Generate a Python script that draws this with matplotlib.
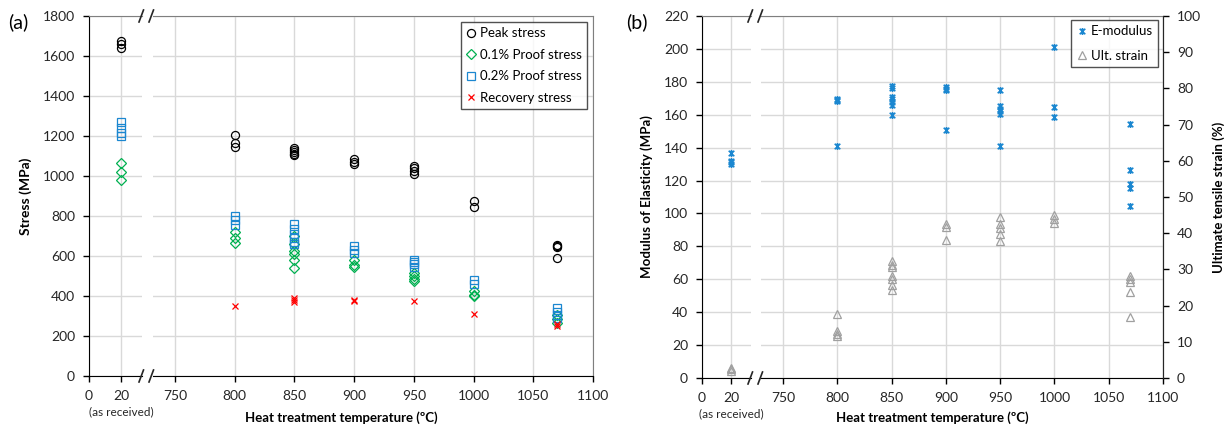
import matplotlib
matplotlib.use("Agg")
import matplotlib.pyplot as plt
from matplotlib.path import Path
from matplotlib.lines import Line2D

plt.rcParams['font.family'] = ['Lato', 'DejaVu Sans']
plt.rcParams['font.size'] = 10

# heat treatment temperatures (20 = as received)
temps = [20, 800, 850, 900, 950, 1000, 1070]

# panel (a) stresses, MPa
peak = [[1675, 1660, 1640], [1205, 1163, 1143], [1138, 1130, 1122, 1112, 1105],
        [1085, 1070, 1058], [1052, 1039, 1025, 1012], [876, 843], [656, 650, 645, 590]]
proof01 = [[1065, 1022, 982], [718, 690, 665], [700, 660, 625, 612, 578, 540],
           [582, 557, 543], [515, 500, 485, 474], [424, 407, 399], [307, 283, 266]]
proof02 = [[1270, 1240, 1215, 1200], [801, 781, 756], [760, 735, 712, 690, 672, 658],
           [648, 632, 615], [582, 570, 558, 545], [482, 462], [338, 322, 305, 290]]
recovery = [[], [352], [390, 380, 370], [382, 377], [374], [311], [258, 249]]

# panel (b) E-modulus (left axis) and ultimate strain in % (right axis)
emod = [[137, 132, 131, 130], [169.5, 169, 168.5, 141], [177.3, 176.3, 170.8, 169.4, 167.7, 166.1, 159.6],
        [176.9, 175.9, 174.8, 150.9], [175.2, 165.1, 163.7, 162.1, 160.7, 141.2],
        [201.2, 164.5, 158.6], [154.6, 126.2, 118.1, 115.7, 104.3]]
strain = [[2.9, 2.4, 2.0], [17.8, 12.9, 12.2, 11.5], [32.2, 31.3, 30.7, 28.1, 27.4, 25.8, 24.3],
          [42.5, 41.7, 38.0], [44.5, 42.6, 41.3, 39.9, 37.9], [44.9, 44.0, 42.8],
          [28.1, 27.4, 26.5, 23.8, 16.9]]

xticks_hi = [750, 800, 850, 900, 950, 1000, 1050, 1100]


def flat(groups):
    xs, ys = [], []
    for t, vals in zip(temps, groups):
        xs += [t] * len(vals)
        ys += vals
    return xs, ys


star = Path([(-1, -1), (1, 1), (-1, 1), (1, -1), (0, -1.25), (0, 1.25)],
            [Path.MOVETO, Path.LINETO, Path.MOVETO, Path.LINETO, Path.MOVETO, Path.LINETO])

W, H = 1232, 428
fig = plt.figure(figsize=(W / 100, H / 100), dpi=100)


def px_axes(x0, x1, y0, y1):
    return fig.add_axes([x0 / W, 1 - y1 / H, (x1 - x0) / W, (y1 - y0) / H])


grid_c = '#d9d9d9'
grey_sp = '#7f7f7f'


def style_pair(axl, axr, lo_lim, hi_lim, ylim, yticks):
    for ax in (axl, axr):
        ax.set_ylim(*ylim)
        ax.set_yticks(yticks)
        ax.grid(True, color=grid_c, lw=1)
        ax.set_axisbelow(True)
        ax.tick_params(direction='out', length=4, width=1, color='black',
                       labelcolor='#262626', labelsize=10, pad=6)
        ax.spines['top'].set_color(grey_sp)
        ax.spines['bottom'].set_color('black')
    axl.set_xlim(*lo_lim)
    axl.set_xticks([0, 20])
    axl.spines['right'].set_visible(False)
    axl.spines['left'].set_color('black')
    axl.annotate('(as received)', xy=(20, 0), xycoords=('data', 'axes fraction'),
                 xytext=(0, -22), textcoords='offset points', ha='center', va='top',
                 fontsize=8.5, color='#262626')
    axr.set_xlim(*hi_lim)
    axr.set_xticks(xticks_hi)
    axr.spines['left'].set_visible(False)
    axr.spines['right'].set_color(grey_sp)
    axr.tick_params(axis='y', left=False, labelleft=False)


def breaks(xa, xb, ytop, ybot):
    for y in (ytop, ybot):
        for x in (xa, xb):
            fig.add_artist(Line2D([(x) / W, (x + 4.5) / W], [1 - (y + 6) / H, 1 - (y - 6) / H],
                                  color='#262626', lw=1.2))


leg_kw = dict(borderaxespad=0, fancybox=False, edgecolor='#262626', fontsize=9.5,
              handletextpad=0.25, handlelength=0.8, borderpad=0.4)

# ---------- panel (a)
a_lo = px_axes(89, 142, 16, 376)
a_hi = px_axes(153, 593, 16, 376)
style_pair(a_lo, a_hi, (0, 33.1), (731.6, 1100), (0, 1800), range(0, 1801, 200))
for ax in (a_lo, a_hi):
    x, y = flat(peak)
    ax.plot(x, y, 'o', ms=5.8, mfc='none', mec='black', mew=0.9, label='Peak stress')
    x, y = flat(proof01)
    ax.plot(x, y, 'D', ms=4.8, mfc='none', mec='#00b050', mew=0.9, label='0.1% Proof stress')
    x, y = flat(proof02)
    ax.plot(x, y, 's', ms=5.8, mfc='none', mec='#1b87d0', mew=0.9, label='0.2% Proof stress')
    x, y = flat(recovery)
    ax.plot(x, y, 'x', ms=5, mec='#ff0000', mew=0.9, label='Recovery stress')
a_lo.set_ylabel('Stress (MPa)', fontweight='bold', fontsize=10, labelpad=8)
leg = a_hi.legend(loc='upper right', bbox_to_anchor=(1 - 6 / 440, 1 - 6 / 360),
                  labelspacing=0.72, **leg_kw)
leg.get_frame().set_linewidth(1)
breaks(139, 149, 16, 376)
fig.text(341 / W, 1 - 418 / H, 'Heat treatment temperature (\u00baC)', ha='center', va='center',
         fontweight='bold', fontsize=9.5)
fig.text(8 / W, 1 - 22 / H, '(a)', ha='left', va='center', fontsize=14)

# ---------- panel (b)
b_lo = px_axes(702, 751, 16, 378)
b_hi = px_axes(761, 1163, 16, 378)
style_pair(b_lo, b_hi, (0, 33.8), (729.7, 1100), (0, 220), range(0, 221, 20))
b_hi.spines['right'].set_color('#262626')
b_lo2 = b_lo.twinx()
b_hi2 = b_hi.twinx()
# twinx switches the left ticks back on for the parent axes
b_hi.tick_params(axis='y', left=False, right=False, labelleft=False, labelright=False)
b_lo.tick_params(axis='y', left=True, right=False, labelleft=True, labelright=False)
for ax in (b_lo2, b_hi2):
    ax.set_ylim(0, 100)
    for s in ax.spines.values():
        s.set_visible(False)
b_lo2.set_yticks([])
b_lo2.tick_params(axis='y', which='both', left=False, right=False,
                  labelleft=False, labelright=False)
b_hi2.spines['right'].set_visible(True)
b_hi2.spines['right'].set_color('#262626')
b_hi2.set_yticks(range(0, 101, 10))
b_hi2.tick_params(axis='y', direction='out', length=4, width=1, color='black',
                  labelcolor='#262626', labelsize=10, pad=6, left=False, labelleft=False)
for ax, ax2 in ((b_lo, b_lo2), (b_hi, b_hi2)):
    x, y = flat(emod)
    ax.plot(x, y, marker=star, ls='none', ms=5, mfc='none', mec='#1b87d0', mew=1.2, label='E-modulus')
    x, y = flat(strain)
    ax2.plot(x, y, '^', ms=6, mfc='none', mec='#a0a0a0', mew=0.9, label='Ult. strain')
b_lo.set_ylabel('Modulus of Elasticity (MPa)', fontweight='bold', fontsize=9.5, labelpad=8)
b_hi2.set_ylabel('Ultimate tensile strain (%)', fontweight='bold', fontsize=9.5, labelpad=8)
h1, l1 = b_hi.get_legend_handles_labels()
h2, l2 = b_hi2.get_legend_handles_labels()
leg2 = b_hi2.legend(h1 + h2, l1 + l2, loc='upper right', bbox_to_anchor=(1 - 5 / 402, 1 - 4 / 362),
                    labelspacing=0.95, **leg_kw)
leg2.get_frame().set_linewidth(1)
breaks(748, 758, 16, 378)
fig.text(932 / W, 1 - 418 / H, 'Heat treatment temperature (\u00baC)', ha='center', va='center',
         fontweight='bold', fontsize=9.5)
fig.text(626 / W, 1 - 22 / H, '(b)', ha='left', va='center', fontsize=14)

fig.savefig('out.png', dpi=100)
